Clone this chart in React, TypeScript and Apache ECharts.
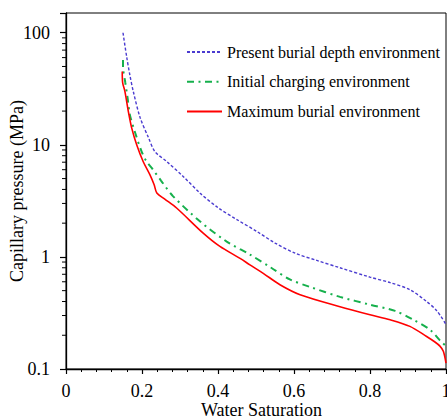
import React, { useEffect, useRef } from "react";
import * as echarts from "echarts";

const FONT = "'Liberation Serif', 'Times New Roman', serif";

const seriesNames = [
  "Present burial depth environment",
  "Initial charging environment",
  "Maximum burial environment",
];

const presentSw = [0.150, 0.160, 0.168, 0.177, 0.195, 0.217, 0.234, 0.265, 0.309, 0.353, 0.400, 0.450, 0.502, 0.550, 0.603, 0.660, 0.721, 0.800, 0.853, 0.905, 0.949, 0.976, 1.000];
const presentP = [100, 60, 42, 30, 17.5, 11.6, 8.7, 7.1, 5.2, 3.7, 2.75, 2.15, 1.69, 1.33, 1.08, 0.93, 0.80, 0.66, 0.59, 0.51, 0.40, 0.33, 0.25];

const initialSw = [0.150, 0.150, 0.156, 0.162, 0.168, 0.182, 0.199, 0.212, 0.226, 0.250, 0.282, 0.353, 0.423, 0.484, 0.540, 0.589, 0.642, 0.721, 0.800, 0.866, 0.914, 0.958, 0.984, 1.000];
const initialP = [57, 50, 36, 26.3, 18.6, 12.8, 8.7, 7.1, 6.2, 4.8, 3.47, 2.07, 1.37, 1.05, 0.80, 0.63, 0.54, 0.44, 0.375, 0.33, 0.275, 0.224, 0.18, 0.16];

const maximumSw = [0.148, 0.149, 0.155, 0.164, 0.173, 0.186, 0.203, 0.221, 0.232, 0.239, 0.260, 0.291, 0.361, 0.405, 0.458, 0.484, 0.520, 0.563, 0.616, 0.721, 0.800, 0.853, 0.905, 0.949, 0.970, 0.984, 0.993, 1.000];
const maximumP = [45, 36, 30, 19.9, 14.1, 10, 7.1, 5.4, 4.4, 3.72, 3.28, 2.73, 1.63, 1.24, 0.97, 0.85, 0.71, 0.565, 0.46, 0.36, 0.305, 0.275, 0.24, 0.195, 0.175, 0.16, 0.144, 0.113];

const yMinorTicks = [0.2, 0.3, 0.4, 0.5, 0.6, 0.7, 0.8, 0.9, 2, 3, 4, 5, 6, 7, 8, 9, 20, 30, 40, 50, 60, 70, 80, 90];

const pairs = (xs: number[], ys: number[]) => xs.map((x, i) => [x, ys[i]]);

export default function App() {
  const ref = useRef<HTMLDivElement>(null);
  useEffect(() => {
    if (!ref.current) return;
    const chart = echarts.init(ref.current, null, { renderer: "svg" });
    const textBase = { fontFamily: FONT, color: "#000" };
    chart.setOption({
      animation: false,
      backgroundColor: "#fff",
      grid: {
        left: 66,
        right: 1,
        top: 13,
        bottom: 50,
        show: true,
        borderColor: "#000",
        borderWidth: 1,
        containLabel: false,
        outerBoundsMode: "none",
      },
      legend: {
        orient: "vertical",
        left: 181,
        top: 38,
        itemWidth: 35,
        itemHeight: 14,
        itemGap: 11.8,
        selectedMode: false,
        data: seriesNames,
        itemStyle: { opacity: 0 },
        textStyle: { ...textBase, fontSize: 16, lineHeight: 18 },
      },
      xAxis: {
        type: "value",
        min: 0,
        max: 1,
        interval: 0.2,
        axisLine: { lineStyle: { color: "#000", width: 1.3 } },
        axisTick: { length: 5, lineStyle: { color: "#000", width: 1.2 } },
        minorTick: { show: true, splitNumber: 5, length: 3, lineStyle: { color: "#000", width: 1 } },
        splitLine: { show: false },
        minorSplitLine: { show: false },
        axisLabel: { ...textBase, fontSize: 18, margin: 13 },
        name: "Water Saturation",
        nameLocation: "middle",
        nameGap: 32,
        nameMoveOverlap: false,
        nameTextStyle: { ...textBase, fontSize: 18, padding: [0, 0, 0, 11] },
      },
      yAxis: {
        type: "log",
        logBase: 10,
        min: 0.1,
        max: 150,
        axisLine: { lineStyle: { color: "#000", width: 1.3 } },
        axisTick: { length: 6, lineStyle: { color: "#000", width: 1.2 } },
        splitLine: { show: false },
        axisLabel: {
          ...textBase,
          fontSize: 18,
          margin: 16,
          formatter: (v: number) => {
            const l = Math.log10(v);
            if (Math.abs(l - Math.round(l)) > 1e-6) return "";
            return v < 1 ? "0.1" : String(Math.round(v));
          },
        },
        name: "Capillary pressure (MPa)",
        nameLocation: "middle",
        nameGap: 40,
        nameMoveOverlap: false,
        nameTextStyle: { ...textBase, fontSize: 18 },
      },
      series: [
        {
          name: seriesNames[0],
          type: "line",
          data: pairs(presentSw, presentP),
          symbol: "none",
          smooth: 0.3,
          lineStyle: { color: "#4a3bd0", width: 1.4, type: [3, 2] },
          itemStyle: { color: "#4a3bd0" },
        },
        {
          name: seriesNames[1],
          type: "line",
          data: pairs(initialSw, initialP),
          symbol: "none",
          smooth: 0.3,
          lineStyle: { color: "#16b04c", width: 2, type: [7, 4.5, 2, 4.5] },
          itemStyle: { color: "#16b04c" },
        },
        {
          name: seriesNames[2],
          type: "line",
          data: pairs(maximumSw, maximumP),
          symbol: "none",
          smooth: 0.3,
          lineStyle: { color: "#ff0000", width: 1.6, type: "solid" },
          itemStyle: { color: "#ff0000" },
        },
        {
          type: "custom",
          silent: true,
          clip: false,
          data: yMinorTicks.map((v) => [0, v]),
          renderItem: (_p: any, api: any) => {
            const pt = api.coord([0, api.value(1)]);
            return {
              type: "line",
              shape: { x1: pt[0] - 4, y1: pt[1], x2: pt[0], y2: pt[1] },
              style: { stroke: "#000", lineWidth: 1 },
            };
          },
          z: 10,
        },
      ],
    });
    return () => chart.dispose();
  }, []);
  return (
    <div
      ref={ref}
      style={{ position: "fixed", left: 0, top: 0, width: 447, height: 419, background: "#fff" }}
    />
  );
}
